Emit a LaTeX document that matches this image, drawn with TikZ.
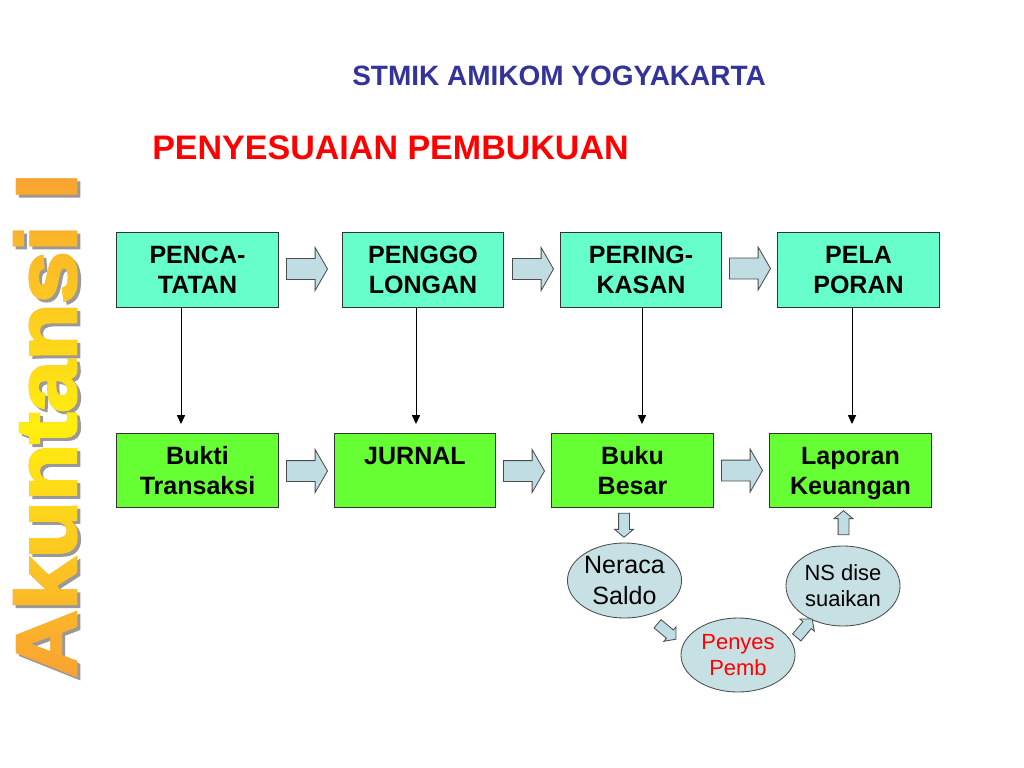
\documentclass[tikz,border=0pt]{standalone}
\usepackage{fontspec}
\setmainfont{Liberation Sans}
\newfontfamily\akfont[FakeBold=3]{Liberation Sans}
\usetikzlibrary{shapes.geometric,shapes.arrows,arrows.meta,fadings}
\definecolor{topfill}{HTML}{66FFCC}
\definecolor{botfill}{HTML}{66FF33}
\definecolor{arrfill}{HTML}{C0DDE3}
\definecolor{ellfill}{HTML}{C6E0E4}
\definecolor{headblue}{HTML}{333399}
\definecolor{headred}{HTML}{FF0000}
\definecolor{akorange}{HTML}{F9A232}
\definecolor{akyellow}{HTML}{FFEE10}
\newcommand{\aktext}{\resizebox{12.6cm}{1.55cm}{\akfont\bfseries Akuntansi I}}
\begin{tikzfadingfrompicture}[name=akfade]
\node[rotate=90, inner sep=0pt, text=transparent!0] {\aktext};
\end{tikzfadingfrompicture}
\begin{document}
\begin{tikzpicture}[x=0.025cm, y=-0.025cm,
  topbox/.style={draw=black!80, line width=0.7pt, fill=topfill, minimum width=4.025cm, minimum height=1.85cm, inner sep=0pt, align=center, font=\fontsize{17.8pt}{21.3pt}\selectfont\bfseries},
  botbox/.style={topbox, fill=botfill},
  bigarrow/.style={single arrow, draw=black!70, line width=0.6pt, fill=arrfill, minimum height=1.025cm, inner xsep=0pt, inner ysep=0.25cm, single arrow head extend=0.275cm, single arrow tip angle=120},
  smallarrow/.style={single arrow, draw=black!70, line width=0.6pt, fill=arrfill, minimum height=0.6cm, inner xsep=0pt, inner ysep=0.125cm, single arrow head extend=0.1cm, single arrow tip angle=100},
  oval/.style={ellipse, draw=black!70, line width=0.6pt, fill=ellfill, inner sep=0pt, align=center, font=\fontsize{15.6pt}{18.5pt}\selectfont},
  downline/.style={-{Triangle[length=0.22cm,width=0.2cm]}, line width=0.7pt, shorten >=0.225cm}]
\fill[white] (0,0) rectangle (1024,768);
\useasboundingbox (0,0) rectangle (1024,768);
\node[rotate=90, anchor=base west, inner sep=0pt, text=black!40] (akshadow) at (79,681) {\aktext};
\node[rotate=90, anchor=base west, inner sep=0pt, text=akorange] (ak) at (76,678) {\aktext};
\path[path fading=akfade, fit fading=false, fading transform={shift={(ak.center)}}, top color=akorange, bottom color=akorange, middle color=akyellow] (ak.north east) rectangle (ak.south west);
\node[anchor=base west, inner sep=0pt, text=headblue, font=\fontsize{19.9pt}{24pt}\selectfont\bfseries] (inst) at (352,86) {STMIK AMIKOM YOGYAKARTA};
\node[anchor=base west, inner sep=0pt, text=headred, font=\fontsize{24.2pt}{29pt}\selectfont\bfseries] (judul) at (152,160) {PENYESUAIAN PEMBUKUAN};
\node[topbox] (pen) at (197.5,270) {PENCA-\\TATAN};
\node[topbox] (ggo) at (423,270) {PENGGO\\LONGAN};
\node[topbox] (rng) at (641,270) {PERING-\\KASAN};
\node[topbox] (por) at (858.5,270) {PELA\\PORAN};
\node[botbox] (bkt) at (197.5,470.5) {Bukti\\Transaksi};
\node[botbox] (jur) at (415,470.5) {JURNAL\\\mbox{}};
\node[botbox] (bb) at (632.5,470.5) {Buku\\Besar};
\node[botbox] (lk) at (850.5,470.5) {\rule{0pt}{16.4pt}Laporan\\Keuangan};
\node[bigarrow] (ta1) at (304,269) {};
\node[bigarrow] (ta2) at (530,269) {};
\node[bigarrow] (ta3) at (747,268.5) {};
\node[bigarrow] (ba1) at (304,471) {};
\node[bigarrow] (ba2) at (521,471) {};
\node[bigarrow] (ba3) at (739,470.5) {};
\coordinate (v1) at (181,0);
\coordinate (v2) at (416,0);
\coordinate (v3) at (642,0);
\coordinate (v4) at (852,0);
\draw[downline] (pen.south -| v1) -- (bkt.north -| v1);
\draw[downline] (ggo.south -| v2) -- (jur.north -| v2);
\draw[downline] (rng.south -| v3) -- (bb.north -| v3);
\draw[downline] (por.south -| v4) -- (lk.north -| v4);
\node[oval, minimum width=2.825cm, minimum height=1.875cm, font=\fontsize{17.8pt}{22pt}\selectfont] (nrc) at (624.5,580.5) {Neraca\\Saldo};
\node[oval, minimum width=2.85cm, minimum height=1.85cm, text=headred] (pys) at (738,655) {Penyes\\Pemb};
\node[oval, minimum width=2.85cm, minimum height=2cm] (nsd) at (843,586) {NS dise\\suaikan};
\node[smallarrow, rotate=270] (sa1) at (624,523) {};
\node[smallarrow, rotate=-40] (sa2) at (665,630) {};
\node[smallarrow, rotate=50] (sa3) at (803,630) {};
\node[smallarrow, rotate=90] (sa4) at (843.5,525) {};
\end{tikzpicture}
\end{document}
